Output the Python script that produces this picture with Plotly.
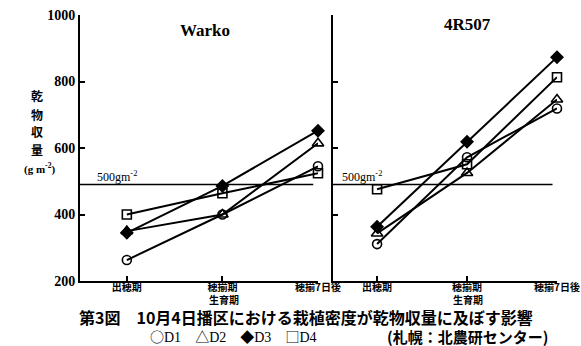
import plotly.graph_objects as go

stages = ["出穂期", "穂揃期", "穂揃7日後"]
stage_idx = [0, 1, 2]
series_names = ["D1", "D2", "D3", "D4"]
warko = {
    "D1": [263, 400, 545],
    "D2": [350, 400, 614],
    "D3": [345, 486, 652],
    "D4": [400, 464, 524],
}
r4507 = {
    "D1": [311, 572, 719],
    "D2": [343, 525, 746],
    "D3": [363, 619, 873],
    "D4": [476, 551, 813],
}
ref_line_value = 490
y_ticks = [200, 400, 600, 800, 1000]

symbols = {"D1": "circle-open", "D2": "triangle-up-open", "D3": "diamond", "D4": "square-open"}
sizes = {"D1": 9, "D2": 10, "D3": 9, "D4": 9}
legend_marks = {"D1": "○", "D2": "△", "D3": "◆", "D4": "□"}

W, H = 581, 346
def px(x):
    return x / W
def py(y):
    return 1 - y / H

fig = go.Figure()
for panel, data in (("", warko), ("2", r4507)):
    for name in series_names:
        fig.add_trace(go.Scatter(
            x=stage_idx, y=data[name], mode="lines+markers",
            xaxis="x" + panel, yaxis="y" + panel,
            line=dict(color="black", width=2),
            marker=dict(symbol=symbols[name], size=sizes[name], color="black",
                        line=dict(color="black", width=1.6)),
            cliponaxis=False, showlegend=False,
        ))

serif = "Liberation Serif"
cjk = "Noto Sans CJK JP"
ydom = [py(281), py(15)]
common_x = dict(showline=True, linecolor="black", linewidth=2, ticks="inside", ticklen=5,
                tickwidth=1.5, tickcolor="black", tickvals=stage_idx, ticktext=stages,
                tickfont=dict(family=cjk, size=10, color="black", weight="bold"),
                ticklabelstandoff=-4, automargin=False,
                showgrid=False, zeroline=False)
common_y = dict(showline=True, linecolor="black", linewidth=2, ticks="inside", ticklen=5,
                tickwidth=1.5, tickcolor="black", tickvals=y_ticks, range=[200, 1000],
                automargin=False, showgrid=False, zeroline=False, domain=ydom)

fig.update_layout(
    template="none",
    width=W, height=H, margin=dict(l=0, r=0, t=0, b=0, pad=0), autosize=False,
    plot_bgcolor="white", paper_bgcolor="white",
    xaxis=dict(common_x, domain=[px(80), px(318)], range=[-0.49, 2.0], anchor="y"),
    yaxis=dict(common_y, anchor="x",
               tickfont=dict(family=serif, size=14, color="black", weight="bold")),
    xaxis2=dict(common_x, domain=[px(333), px(557)], range=[-0.49, 2.0], anchor="y2"),
    yaxis2=dict(common_y, anchor="x2", showticklabels=False),
)

for xr, yr in (("x", "y"), ("x2", "y2")):
    fig.add_shape(type="line", xref=xr + " domain", yref=yr, x0=0, x1=0.98,
                  y0=ref_line_value, y1=ref_line_value, line=dict(color="black", width=1.5))

legend_text = "　".join(
    "<span style='font-family:Noto Sans CJK JP'>" + legend_marks[n] + "</span>" + n
    for n in series_names)

annots = [
    dict(x=px(205), y=py(30), text="<b>Warko</b>", font=dict(family=serif, size=17)),
    dict(x=px(467), y=py(25), text="<b>4R507</b>", font=dict(family=serif, size=17)),
    dict(x=px(117), y=py(176), text="500gm<sup>-2</sup>", font=dict(family=serif, size=12)),
    dict(x=px(362), y=py(176), text="500gm<sup>-2</sup>", font=dict(family=serif, size=12)),
    dict(x=px(224), y=py(299), text="<b>生育期</b>", font=dict(family=cjk, size=10)),
    dict(x=px(468), y=py(299), text="<b>生育期</b>", font=dict(family=cjk, size=10)),
    dict(x=px(77), y=py(317), xanchor="left",
         text="第3図　10月4日播区における栽植密度が乾物収量に及ぼす影響",
         font=dict(family=cjk, size=16, weight="bold")),
    dict(x=px(148), y=py(336), xanchor="left", text=legend_text,
         font=dict(family=serif, size=14)),
    dict(x=px(385), y=py(336), xanchor="left", text="(札幌：北農研センター)",
         font=dict(family=cjk, size=15, weight="bold")),
]
for i, ch in enumerate(["乾", "物", "収", "量"]):
    annots.append(dict(x=px(37), y=py(96 + i * 18), text="<b>" + ch + "</b>",
                       font=dict(family=cjk, size=12)))
annots.append(dict(x=px(40), y=py(168), text="(g m<sup>-2</sup>)", font=dict(family=serif, size=11, weight="bold")))

for a in annots:
    a.setdefault("font", {})
    a["font"].setdefault("color", "black")
    a.setdefault("xanchor", "center")
    fig.add_annotation(xref="paper", yref="paper", showarrow=False,
                       yanchor="middle", **a)

fig.write_html("out.html")
